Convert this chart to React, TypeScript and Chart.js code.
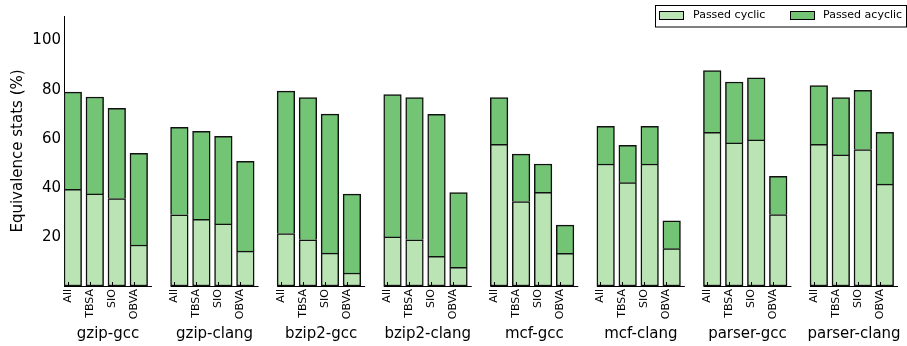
import React, { useEffect, useRef } from "react";
import { Chart, registerables } from "chart.js";

Chart.register(...registerables);

const groups = ["gzip-gcc", "gzip-clang", "bzip2-gcc", "bzip2-clang", "mcf-gcc", "mcf-clang", "parser-gcc", "parser-clang"];
const variants = ["All", "TBSA", "SIO", "OBVA"];
const passedCyclic = [
  39.4, 37.5, 35.6, 16.7,
  29.0, 27.2, 25.3, 14.2,
  21.4, 18.8, 13.4, 5.3,
  20.0, 18.8, 12.1, 7.6,
  57.7, 34.4, 38.2, 13.3,
  49.7, 42.1, 49.7, 15.2,
  62.6, 58.3, 59.5, 29.1,
  57.7, 53.4, 55.6, 41.5,
];
const passedAcyclic = [
  39.6, 39.5, 36.8, 37.4,
  35.6, 35.8, 35.7, 36.6,
  58.0, 58.0, 56.6, 32.1,
  58.0, 58.0, 57.8, 30.5,
  19.1, 19.3, 11.5, 11.5,
  15.3, 15.2, 15.3, 11.4,
  25.2, 24.8, 25.3, 15.6,
  24.0, 23.4, 24.1, 21.1,
];
const yTicks = [20, 40, 60, 80, 100];
const seriesNames = ["Passed cyclic", "Passed acyclic"];

const COLORS = ["#bae4b3", "#74c476"];
const GROUP_PITCH = 4.845;
const BAR_W = 0.8;
const FONT = "'DejaVu Sans', sans-serif";

export default function App() {
  const ref = useRef<HTMLCanvasElement | null>(null);

  useEffect(() => {
    document.body.style.margin = "0";
    const xOf = (i: number) => Math.floor(i / variants.length) * GROUP_PITCH + (i % variants.length) + BAR_W / 2;
    const mk = (arr: number[]) => arr.map((v, i) => ({ x: xOf(i), y: v }));
    const xMax = (groups.length - 1) * GROUP_PITCH + variants.length;

    const overlay = {
      id: "overlay",
      afterDraw(chart: any) {
        const { ctx, chartArea, scales } = chart;
        const xs = scales.x;
        const bottom = chartArea.bottom;
        ctx.save();
        ctx.strokeStyle = "#000";
        ctx.fillStyle = "#000";
        ctx.lineWidth = 1;
        groups.forEach((g, gi) => {
          const x0 = xs.getPixelForValue(gi * GROUP_PITCH);
          const x1 = xs.getPixelForValue(gi * GROUP_PITCH + variants.length);
          ctx.beginPath();
          ctx.moveTo(x0, bottom + 0.5);
          ctx.lineTo(x1, bottom + 0.5);
          ctx.stroke();
          variants.forEach((v, vi) => {
            const tx = Math.round(xs.getPixelForValue(gi * GROUP_PITCH + vi + 0.16)) + 0.5;
            ctx.beginPath();
            ctx.moveTo(tx, bottom);
            ctx.lineTo(tx, bottom - 4);
            ctx.stroke();
            ctx.save();
            ctx.translate(tx, bottom + 3);
            ctx.rotate(-Math.PI / 2);
            ctx.font = `11px ${FONT}`;
            ctx.textAlign = "right";
            ctx.textBaseline = "middle";
            ctx.fillText(v, 0, 0);
            ctx.restore();
          });
          ctx.font = `15px ${FONT}`;
          ctx.textAlign = "center";
          ctx.textBaseline = "middle";
          ctx.fillText(g, (x0 + x1) / 2, 334);
        });
        // legend
        ctx.fillStyle = "#fff";
        ctx.fillRect(655.5, 5.5, 251, 21.5);
        ctx.strokeRect(655.5, 5.5, 251, 21.5);
        const sw = [659.5, 790.5];
        const tx = [693, 823];
        seriesNames.forEach((n, i) => {
          ctx.fillStyle = COLORS[i];
          ctx.fillRect(sw[i], 11.5, 24, 8);
          ctx.strokeStyle = "#000";
          ctx.strokeRect(sw[i], 11.5, 24, 8);
          ctx.fillStyle = "#000";
          ctx.font = `11px ${FONT}`;
          ctx.textAlign = "left";
          ctx.textBaseline = "middle";
          ctx.fillText(n, tx[i], 15.5);
        });
        ctx.restore();
      },
    };

    const chart = new Chart(ref.current as HTMLCanvasElement, {
      type: "bar",
      data: {
        datasets: [
          {
            label: seriesNames[0],
            data: mk(passedCyclic),
            backgroundColor: COLORS[0],
            borderColor: "#111",
            borderWidth: 1.5,
            borderSkipped: false,
            barThickness: 17.6,
          },
          {
            label: seriesNames[1],
            data: mk(passedAcyclic),
            backgroundColor: COLORS[1],
            borderColor: "#111",
            borderWidth: 1.5,
            borderSkipped: "bottom",
            barThickness: 17.6,
          },
        ],
      } as any,
      options: {
        animation: false,
        responsive: true,
        maintainAspectRatio: false,
        layout: { padding: { top: 16, right: 9, bottom: 60, left: 0 } },
        plugins: { legend: { display: false }, tooltip: { enabled: false } },
        scales: {
          x: { type: "linear", min: 0, max: xMax, stacked: true, offset: false, display: false },
          y: {
            stacked: true,
            min: 0,
            max: 110,
            afterBuildTicks: (s: any) => {
              s.ticks = yTicks.map((v) => ({ value: v }));
            },
            afterFit: (s: any) => {
              s.width = 64;
            },
            grid: { drawOnChartArea: false, drawTicks: false },
            border: { display: true, color: "#000", width: 1 },
            ticks: { color: "#000", padding: 3, font: { family: FONT, size: 15 } },
            title: {
              display: true,
              text: "Equivalence stats (%)",
              color: "#000",
              font: { family: FONT, size: 15 },
              padding: { top: 9, bottom: 0 },
            },
          },
        },
      } as any,
      plugins: [overlay],
    });
    return () => chart.destroy();
  }, []);

  return (
    <div style={{ width: 907, height: 346, position: "relative" }}>
      <canvas ref={ref} />
    </div>
  );
}
